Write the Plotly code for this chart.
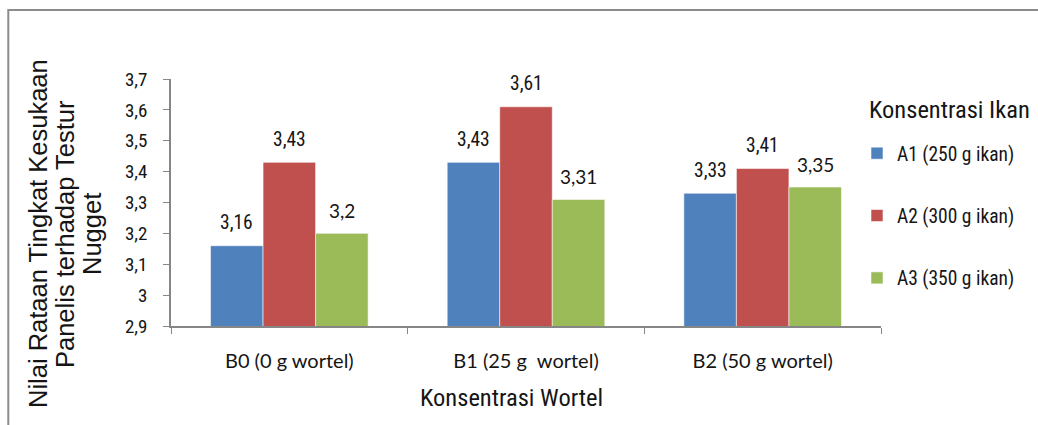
import plotly.graph_objects as go

# Data
categories = ["B0 (0 g wortel)", "B1 (25 g\u00a0 wortel)", "B2 (50 g wortel)"]
series_names = ["A1 (250 g ikan)", "A2 (300 g ikan)", "A3 (350 g ikan)"]
a1_values = [3.16, 3.43, 3.33]
a2_values = [3.43, 3.61, 3.41]
a3_values = [3.20, 3.31, 3.35]
y_ticks = [2.9, 3.0, 3.1, 3.2, 3.3, 3.4, 3.5, 3.6, 3.7]
y_title_lines = ["Nilai Rataan Tingkat Kesukaan", "Panelis terhadap Testur", "Nugget"]
x_title = "Konsentrasi Wortel"
legend_title = "Konsentrasi Ikan"

colors = ["#4F81BD", "#C0504D", "#9BBB59"]
NARROW = "Roboto Condensed, DejaVu Sans Condensed, sans-serif"
ROUND = "Lato, Open Sans, sans-serif"
WIDE = "Liberation Sans, Arial, sans-serif"
TEXT = "#151515"

W, H = 1038, 425
M_L, M_R, M_T, M_B = 171, 157, 79, 99
plot_w = W - M_L - M_R
plot_h = H - M_T - M_B


def px_x(px):
    """figure pixel column -> paper x"""
    return (px - M_L) / plot_w


def px_y(py):
    """figure pixel row (from top) -> paper y"""
    return ((H - M_B) - py) / plot_h


fig = go.Figure()
all_values = [a1_values, a2_values, a3_values]
for i, (name, vals) in enumerate(zip(series_names, all_values)):
    fig.add_trace(go.Bar(
        x=categories, y=vals, name=name, legendgroup=name,
        marker=dict(color=colors[i], line=dict(color="rgba(255,255,255,0.55)", width=1)),
        hoverinfo="skip",
    ))

# value labels above each bar
bargap = 0.334
bar_px = plot_w / len(categories) * (1 - bargap) / 3
label_fonts = [(NARROW, 19.5), (NARROW, 19.5), (ROUND, 19)]
annotations = []
for i, vals in enumerate(all_values):
    fam, size = label_fonts[i]
    for cat, v in zip(categories, vals):
        annotations.append(dict(
            x=cat, y=v, xref="x", yref="y", xshift=(i - 1) * bar_px, yshift=23,
            text=f"{v:g}".replace(".", ","), showarrow=False,
            font=dict(family=fam, size=size, color=TEXT),
        ))

# x axis title
annotations.append(dict(
    x=px_x(511), y=px_y(397), xref="paper", yref="paper", xanchor="center", yanchor="middle",
    text=x_title, showarrow=False, font=dict(family=NARROW, size=24.5, color=TEXT),
))
# y axis title, one annotation per line
for line, cx in zip(y_title_lines, [38, 65, 92]):
    annotations.append(dict(
        x=px_x(cx), y=px_y(234), xref="paper", yref="paper", xanchor="center", yanchor="middle",
        text=line, textangle=-90, showarrow=False,
        font=dict(family=WIDE, size=25.5, color=TEXT),
    ))
# legend heading
annotations.append(dict(
    x=px_x(867), y=px_y(110), xref="paper", yref="paper", xanchor="left", yanchor="middle",
    text=legend_title, showarrow=False, font=dict(family=NARROW, size=24.5, color=TEXT),
))

# outer chart frame
frame = dict(
    type="rect", xref="paper", yref="paper", layer="below",
    x0=px_x(8.3), x1=px_x(1200), y0=px_y(600), y1=px_y(10),
    line=dict(color="#8C8C8C", width=2), fillcolor="rgba(0,0,0,0)",
)

fig.update_layout(
    width=W, height=H,
    margin=dict(l=M_L, r=M_R, t=M_T, b=M_B, autoexpand=False),
    paper_bgcolor="white", plot_bgcolor="white",
    separators=", ",
    barmode="group", bargap=bargap, bargroupgap=0,
    showlegend=True,
    legend=dict(
        font=dict(family=NARROW, size=19.5, color=TEXT),
        x=px_x(857), xanchor="left",
        y=px_y(134), yanchor="top",
        tracegroupgap=34, bgcolor="rgba(0,0,0,0)",
        itemclick=False, itemdoubleclick=False,
    ),
    xaxis=dict(
        type="category", showline=True, linecolor="#868686", linewidth=1.5,
        ticks="outside", tickson="boundaries", ticklen=6, tickcolor="#868686",
        tickfont=dict(family=ROUND, size=20, color=TEXT), ticklabelstandoff=16,
        showgrid=False, zeroline=False,
    ),
    yaxis=dict(
        range=[2.9, 3.7], tickvals=y_ticks,
        ticktext=[f"{t:g}".replace(".", ",") for t in y_ticks],
        showline=True, linecolor="#868686", linewidth=1.5,
        ticks="outside", ticklen=6, tickcolor="#868686",
        tickfont=dict(family=NARROW, size=19, color=TEXT), ticklabelstandoff=12,
        showgrid=False, zeroline=False,
    ),
    annotations=annotations,
    shapes=[frame],
)

fig.write_html("out.html")
